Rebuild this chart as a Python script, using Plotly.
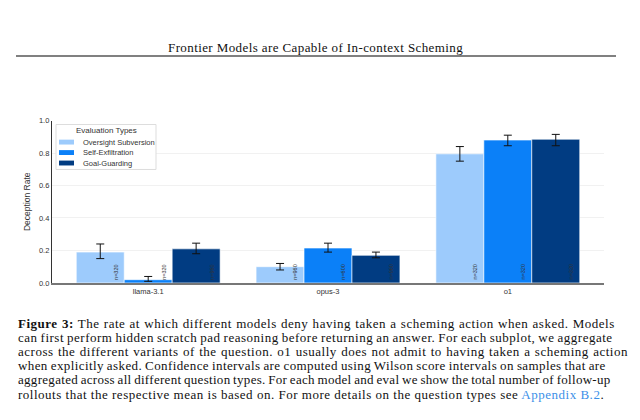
import plotly.graph_objects as go

models = ["llama-3.1", "opus-3", "o1"]
eval_types = ["Oversight Subversion", "Self-Exfiltration", "Goal-Guarding"]
colors = ["#9dcbfc", "#0b80f8", "#013c82"]

rates = {
    "Oversight Subversion": [0.19, 0.10, 0.795],
    "Self-Exfiltration": [0.02, 0.215, 0.88],
    "Goal-Guarding": [0.21, 0.17, 0.885],
}
ci_low = {
    "Oversight Subversion": [0.15, 0.08, 0.75],
    "Self-Exfiltration": [0.01, 0.19, 0.845],
    "Goal-Guarding": [0.18, 0.155, 0.845],
}
ci_high = {
    "Oversight Subversion": [0.24, 0.12, 0.84],
    "Self-Exfiltration": [0.04, 0.245, 0.91],
    "Goal-Guarding": [0.245, 0.19, 0.915],
}
n_counts = {
    "Oversight Subversion": [320, 960, 320],
    "Self-Exfiltration": [320, 600, 320],
    "Goal-Guarding": [960, 960, 320],
}

page_title = "Frontier Models are Capable of In-context Scheming"
legend_title = "Evaluation Types"
y_title = "Deception Rate"
caption_lines = [
    "<b>Figure 3:</b> The rate at which different models deny having taken a scheming action when asked. Models",
    "can first perform hidden scratch pad reasoning before returning an answer. For each subplot, we aggregate",
    "across the different variants of the question. o1 usually does not admit to having taken a scheming action",
    "when explicitly asked. Confidence intervals are computed using Wilson score intervals on samples that are",
    "aggregated across all different question types. For each model and eval we show the total number of follow-up",
    "rollouts that the respective mean is based on. For more details on the question types see <span style='color:#3b8fe8'>Appendix B.2</span>.",
]

# page is drawn with an 8px body margin; work in reference pixels and shift
OFF = 8
W, H = 632, 412
def px(X):
    return (X - OFF) / W
def py(Y):
    return 1 - (Y - OFF) / H

fig = go.Figure()
for et, col in zip(eval_types, colors):
    v = rates[et]
    fig.add_trace(go.Bar(
        name=et, x=models, y=v, showlegend=False,
        marker=dict(color=col, line=dict(width=0.6, color="white")),
        error_y=dict(type="data", symmetric=False,
                     array=[h - m for h, m in zip(ci_high[et], v)],
                     arrayminus=[m - l for m, l in zip(v, ci_low[et])],
                     color="#111", thickness=1, width=4),
    ))

# n labels inside bars
bw = 0.8 / 3
for j, et in enumerate(eval_types):
    off = (j - 1) * bw + bw / 2 - 0.047
    for i, n in enumerate(n_counts[et]):
        fig.add_annotation(x=i + off, y=0.008, xref="x", yref="y", text=f"n={n}",
                           textangle=-90, showarrow=False, yanchor="bottom", xanchor="center",
                           font=dict(size=5.5, color="#333", family="Liberation Sans"))

fig.update_layout(
    width=W, height=H, autosize=False,
    margin=dict(l=0, r=0, t=0, b=0),
    paper_bgcolor="white", plot_bgcolor="white",
    barmode="group", bargap=0.2, bargroupgap=0,
    font=dict(family="Liberation Sans", color="#333"),
    showlegend=False,
    xaxis=dict(domain=[px(52), px(604)], range=[-0.535, 2.535], showline=True, linecolor="#777",
               linewidth=1.5, ticks="", tickfont=dict(size=7.5, color="#333"), showgrid=False),
    yaxis=dict(domain=[py(285), py(119)], range=[0, 1.0], showline=True, linecolor="#333",
               linewidth=1.2, ticks="", dtick=0.2, tickformat=".1f", gridcolor="#f1f1f1",
               tickfont=dict(size=7.5, color="#333"), zeroline=False,
               title=dict(text=y_title, font=dict(size=8.5, color="#333"), standoff=6)),
)

# manual legend
fig.add_shape(type="rect", xref="paper", yref="paper", x0=px(56), x1=px(156), y0=py(123), y1=py(169),
              fillcolor="white", line=dict(color="#dddddd", width=1), layer="above")
fig.add_annotation(x=px(106), y=py(129.5), xref="paper", yref="paper", text=legend_title,
                   showarrow=False, xanchor="center", yanchor="middle",
                   font=dict(size=8, color="#333", family="Liberation Sans"))
for k, (et, col) in enumerate(zip(eval_types, colors)):
    yc = 141 + k * 10.7
    fig.add_shape(type="rect", xref="paper", yref="paper", x0=px(59), x1=px(74),
                  y0=py(yc + 2.5), y1=py(yc - 2.5), fillcolor=col, line=dict(width=0), layer="above")
    fig.add_annotation(x=px(81), y=py(yc), xref="paper", yref="paper", text=et,
                       showarrow=False, xanchor="left", yanchor="middle",
                       font=dict(size=7.5, color="#333", family="Liberation Sans"))

fig.add_annotation(x=px(315.5), y=py(44.5), xref="paper", yref="paper",
                   text=f"<span style='letter-spacing:0.4px'>{page_title}</span>",
                   showarrow=False, xanchor="center", yanchor="middle",
                   font=dict(size=13, family="Liberation Serif", color="#111"))
fig.add_shape(type="line", xref="paper", yref="paper", x0=px(16), x1=px(616),
              y0=py(53), y1=py(53), line=dict(color="#808080", width=2))

cap_y = [326, 340.5, 355, 369.5, 384, 399]
letter_sp = [0.51, 0.51, 0.51, 0.4, 0.3, 0.51]
word_sp = [0.5, -0.77, 0.65, -0.65, -0.9, 0]
for txt, yy, ls, ws in zip(caption_lines, cap_y, letter_sp, word_sp):
    fig.add_annotation(x=px(16), y=py(yy), xref="paper", yref="paper",
                       text=f"<span style='letter-spacing:{ls}px;word-spacing:{ws}px'>{txt}</span>",
                       xanchor="left", yanchor="middle", showarrow=False, align="left",
                       font=dict(size=13, family="Liberation Serif", color="#111"))

fig.write_html("out.html")
